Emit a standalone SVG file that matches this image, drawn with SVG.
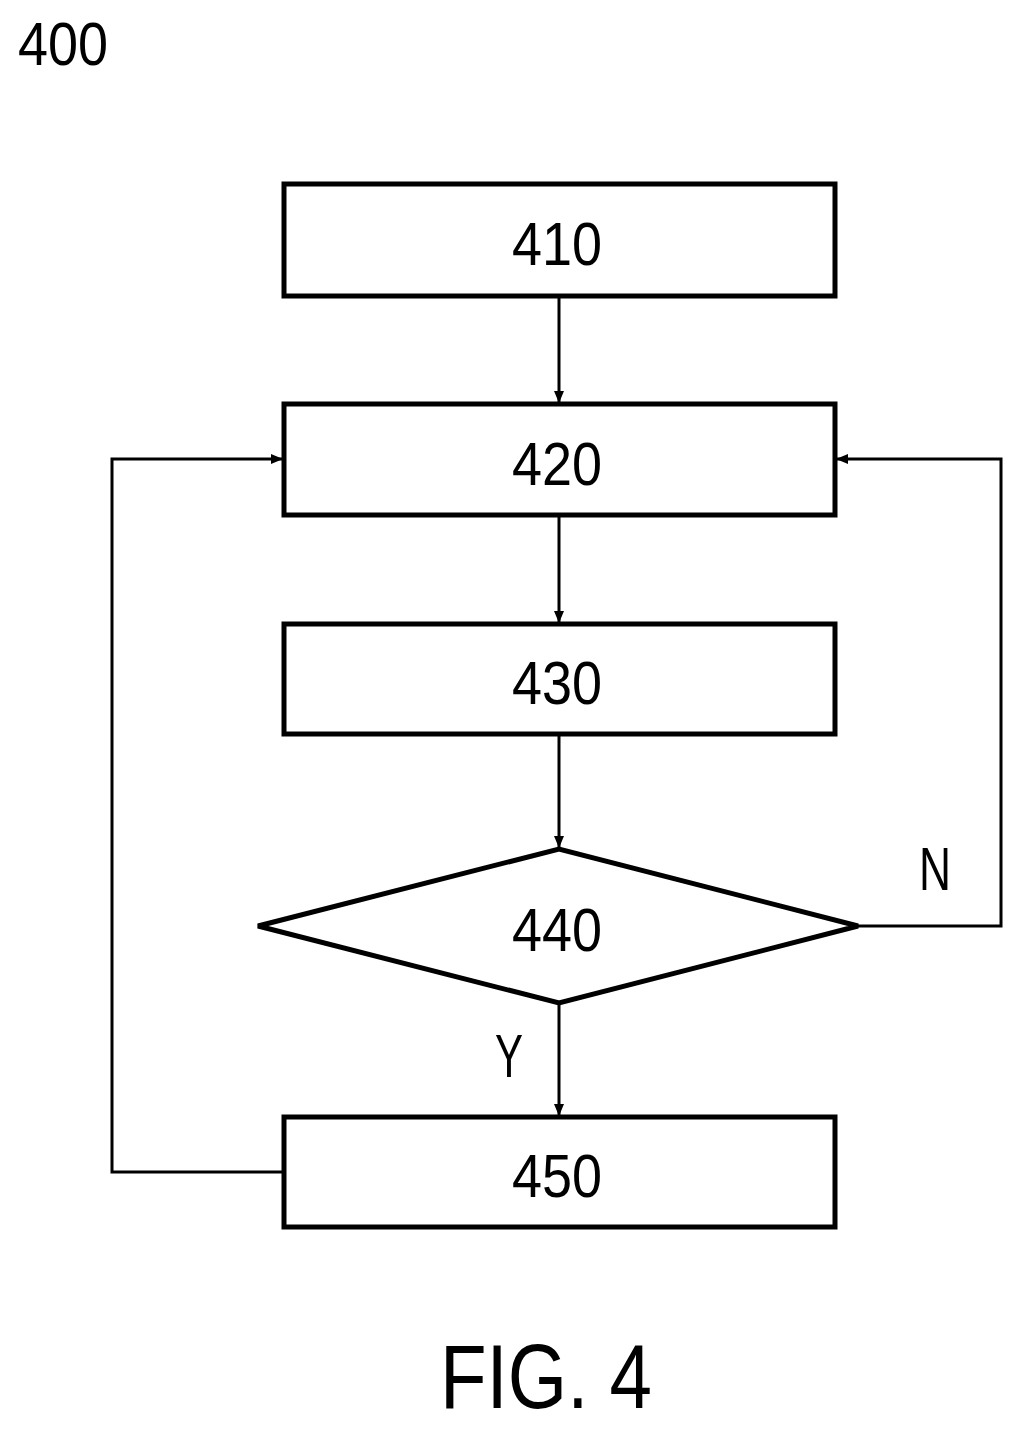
<svg xmlns="http://www.w3.org/2000/svg" width="1023" height="1431" viewBox="0 0 1023 1431">
<style>
.b{fill:#fff;stroke:#000;stroke-width:5}
.t{font-family:"Liberation Sans Narrow","Liberation Sans",sans-serif;font-size:62px;text-anchor:middle;fill:#000}
.c{fill:none;stroke:#000;stroke-width:3}
</style>
<defs><marker id="a" markerWidth="12" markerHeight="10" refX="11" refY="5" orient="auto" markerUnits="userSpaceOnUse" viewBox="0 0 12 10"><path d="M0,0L12,5L0,10z" fill="#000"/></marker></defs>
<rect width="1023" height="1431" fill="#fff"/>
<text x="63" y="65" class="t" textLength="90" lengthAdjust="spacingAndGlyphs">400</text>
<g id="connectors">
<line x1="559" y1="296" x2="559" y2="402" class="c" marker-end="url(#a)"/>
<line x1="559" y1="515" x2="559" y2="622" class="c" marker-end="url(#a)"/>
<line x1="559" y1="734" x2="559" y2="847" class="c" marker-end="url(#a)"/>
<line x1="559" y1="1003" x2="559" y2="1115" class="c" marker-end="url(#a)"/>
<polyline points="284,1172 112,1172 112,459 282,459" class="c" marker-end="url(#a)"/>
<polyline points="858,926 1001,926 1001,459 837,459" class="c" marker-end="url(#a)"/>
<text x="935" y="890" class="t" textLength="32" lengthAdjust="spacingAndGlyphs">N</text>
<text x="509" y="1077" class="t" textLength="28" lengthAdjust="spacingAndGlyphs">Y</text>
</g>
<g id="n410"><rect x="284" y="184" width="551" height="112" class="b"/><text x="557" y="265" class="t" textLength="90" lengthAdjust="spacingAndGlyphs">410</text></g>
<g id="n420"><rect x="284" y="404" width="551" height="111" class="b"/><text x="557" y="485" class="t" textLength="90" lengthAdjust="spacingAndGlyphs">420</text></g>
<g id="n430"><rect x="284" y="624" width="551" height="110" class="b"/><text x="557" y="704" class="t" textLength="90" lengthAdjust="spacingAndGlyphs">430</text></g>
<g id="n440"><polygon points="258,926 559,849 858,926 559,1003" class="b"/><text x="557" y="951" class="t" textLength="90" lengthAdjust="spacingAndGlyphs">440</text></g>
<g id="n450"><rect x="284" y="1117" width="551" height="110" class="b"/><text x="557" y="1197" class="t" textLength="90" lengthAdjust="spacingAndGlyphs">450</text></g>
<text x="546" y="1408" class="t" style="font-size:90px" textLength="212" lengthAdjust="spacingAndGlyphs">FIG. 4</text>
</svg>
